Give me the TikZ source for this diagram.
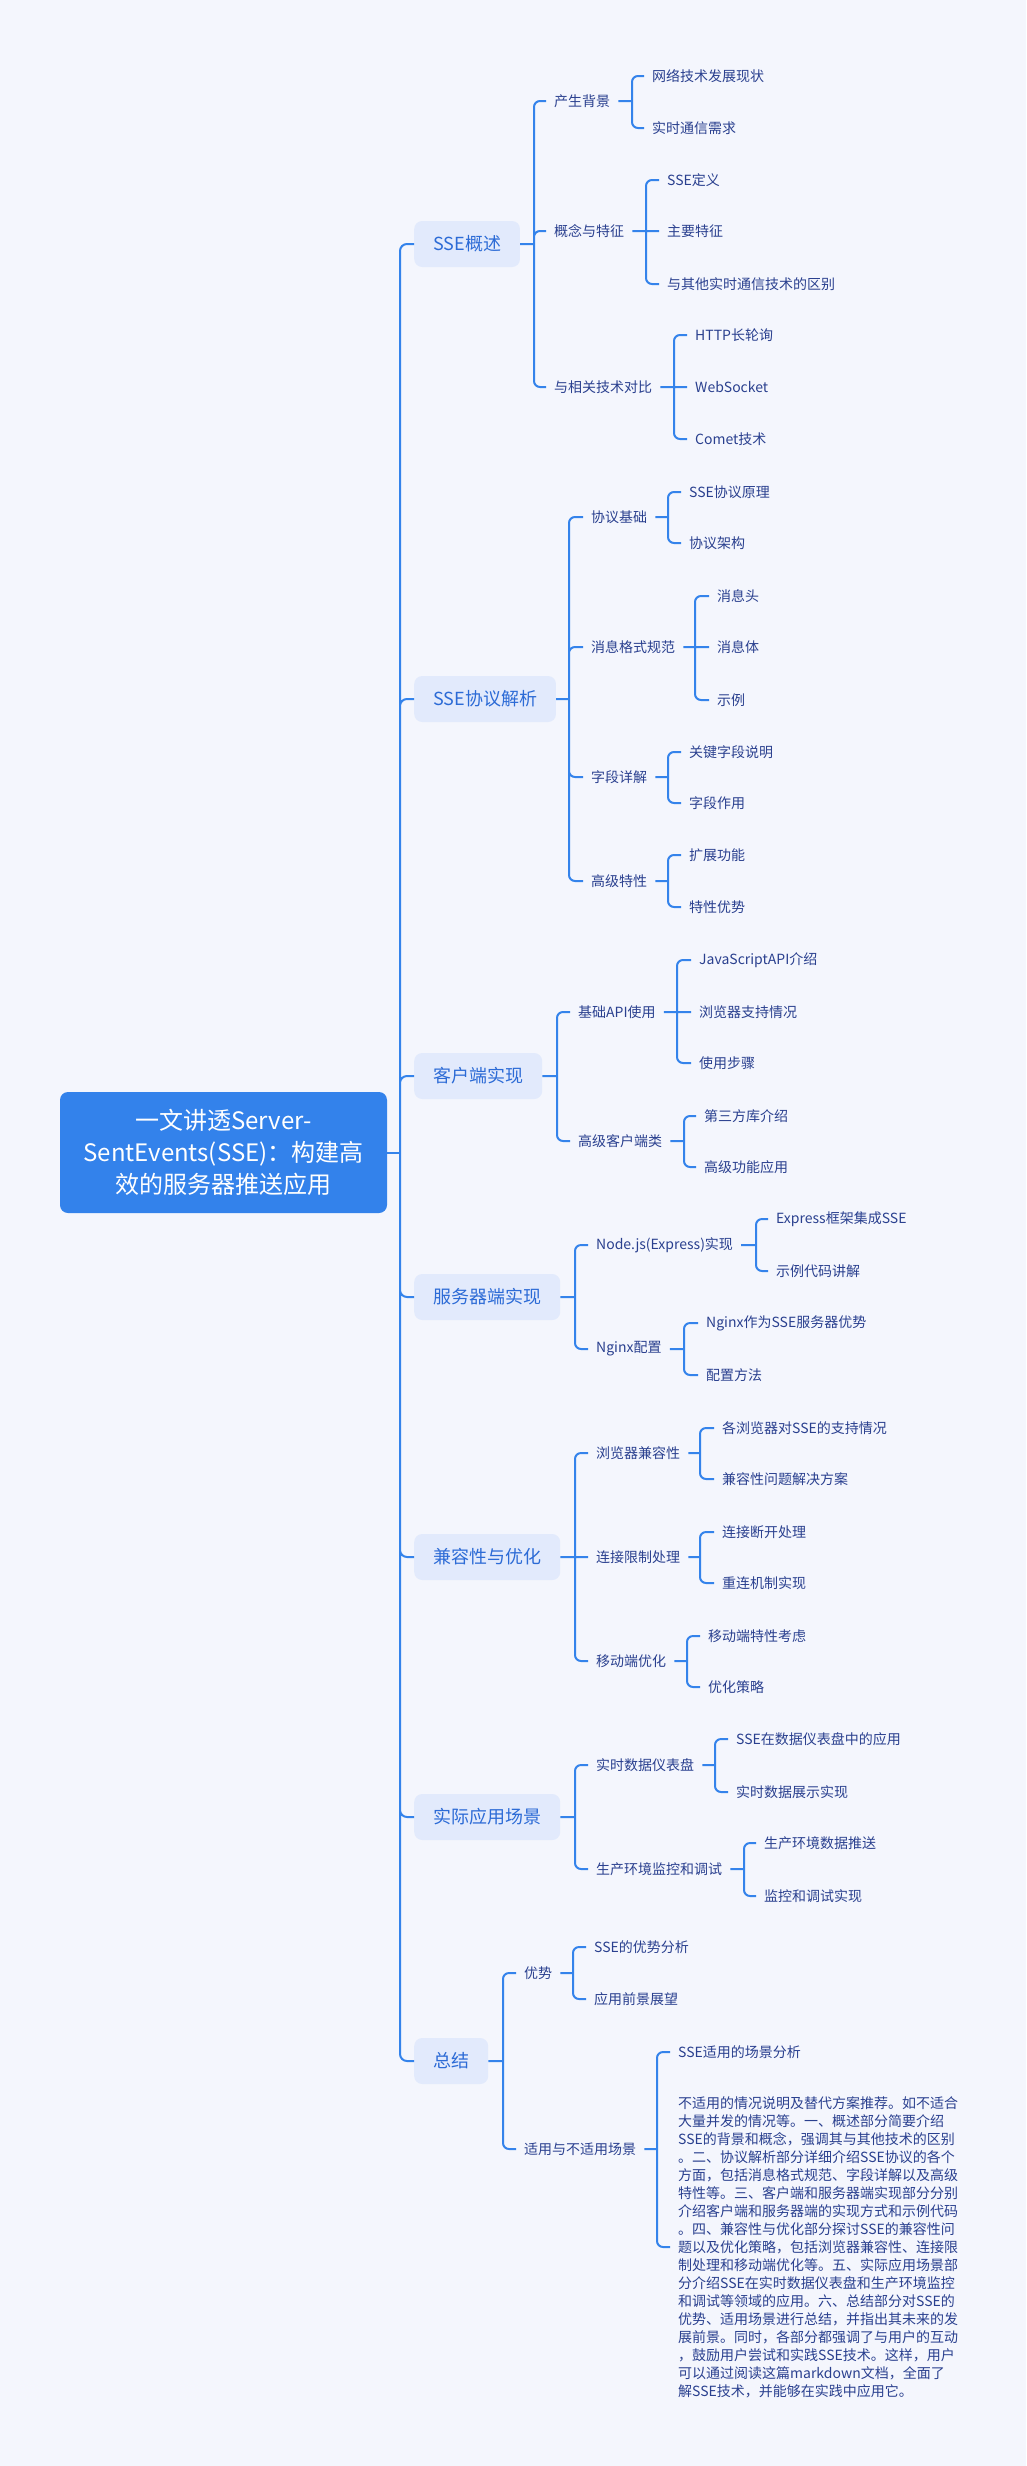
\documentclass[tikz,border=0pt]{standalone}
\usepackage{fontspec}
\usepackage{tikz}
\usetikzlibrary{calc}
\newfontfamily\cjk{Noto Sans CJK SC}

\definecolor{bgcol}{HTML}{F4F6FD}
\definecolor{linkblue}{HTML}{3483EB}
\definecolor{rootblue}{HTML}{3382EB}
\definecolor{topicfill}{HTML}{E2EAFC}
\definecolor{topictext}{HTML}{2C6BD6}
\definecolor{subtext}{HTML}{2A408F}

\tikzset{
  root/.style={fill=rootblue, text=white, rounded corners=8pt, align=center,
    minimum width=327pt, minimum height=121pt,
    font=\cjk\fontsize{24}{32}\selectfont},
  topic/.style={anchor=west, fill=topicfill, text=topictext, rounded corners=8pt,
    inner xsep=19pt, minimum height=46pt, font=\cjk\fontsize{18}{22}\selectfont},
  sub/.style={anchor=west, text=subtext, inner xsep=8pt, inner ysep=3pt,
    font=\cjk\fontsize{14}{18}\selectfont},
  link/.style={draw=linkblue, line width=2pt, rounded corners=6pt},
}

\begin{document}
\begin{tikzpicture}[x=1pt, y=-1pt]
  \fill[bgcol] (0,0) rectangle (1026,2466);
  \useasboundingbox (0,0) rectangle (1026,2466);

  \node[root] (root) at (223.5, 1152.5)
    {一文讲透Server-\\SentEvents(SSE)：构建高\\效的服务器推送应用};

  \node[topic] (ov) at (414, 244)  {SSE概述};
  \node[topic] (pr) at (414, 699)  {SSE协议解析};
  \node[topic] (cl) at (414, 1076) {客户端实现};
  \node[topic] (sv) at (414, 1297) {服务器端实现};
  \node[topic] (cp) at (414, 1557) {兼容性与优化};
  \node[topic] (ap) at (414, 1817) {实际应用场景};
  \node[topic] (sm) at (414, 2061) {总结};

  % SSE概述
  \node[sub] (ov1) at (546, 101) {产生背景};
  \node[sub] (ov2) at (546, 231) {概念与特征};
  \node[sub] (ov3) at (546, 387) {与相关技术对比};
  \node[sub] (ov1a) at (644, 76)  {网络技术发展现状};
  \node[sub] (ov1b) at (644, 128) {实时通信需求};
  \node[sub] (ov2a) at (659, 180) {SSE定义};
  \node[sub] (ov2b) at (659, 231) {主要特征};
  \node[sub] (ov2c) at (659, 284) {与其他实时通信技术的区别};
  \node[sub] (ov3a) at (687, 335) {HTTP长轮询};
  \node[sub] (ov3b) at (687, 387) {WebSocket};
  \node[sub] (ov3c) at (687, 439) {Comet技术};

  % SSE协议解析
  \node[sub] (pr1) at (583, 517) {协议基础};
  \node[sub] (pr2) at (583, 647) {消息格式规范};
  \node[sub] (pr3) at (583, 777) {字段详解};
  \node[sub] (pr4) at (583, 881) {高级特性};
  \node[sub] (pr1a) at (681, 492) {SSE协议原理};
  \node[sub] (pr1b) at (681, 543) {协议架构};
  \node[sub] (pr2a) at (709, 596) {消息头};
  \node[sub] (pr2b) at (709, 647) {消息体};
  \node[sub] (pr2c) at (709, 700) {示例};
  \node[sub] (pr3a) at (681, 752) {关键字段说明};
  \node[sub] (pr3b) at (681, 803) {字段作用};
  \node[sub] (pr4a) at (681, 855) {扩展功能};
  \node[sub] (pr4b) at (681, 907) {特性优势};

  % 客户端实现
  \node[sub] (cl1) at (570, 1012) {基础API使用};
  \node[sub] (cl2) at (570, 1141) {高级客户端类};
  \node[sub] (cl1a) at (691, 960)  {JavaScriptAPI介绍};
  \node[sub] (cl1b) at (691, 1012) {浏览器支持情况};
  \node[sub] (cl1c) at (691, 1063) {使用步骤};
  \node[sub] (cl2a) at (696, 1116) {第三方库介绍};
  \node[sub] (cl2b) at (696, 1167) {高级功能应用};

  % 服务器端实现
  \node[sub] (sv1) at (588, 1245) {Node.js(Express)实现};
  \node[sub] (sv2) at (588, 1349) {Nginx配置};
  \node[sub] (sv1a) at (768, 1219) {Express框架集成SSE};
  \node[sub] (sv1b) at (768, 1271) {示例代码讲解};
  \node[sub] (sv2a) at (698, 1323) {Nginx作为SSE服务器优势};
  \node[sub] (sv2b) at (698, 1375) {配置方法};

  % 兼容性与优化
  \node[sub] (cp1) at (588, 1453) {浏览器兼容性};
  \node[sub] (cp2) at (588, 1557) {连接限制处理};
  \node[sub] (cp3) at (588, 1661) {移动端优化};
  \node[sub] (cp1a) at (714, 1428) {各浏览器对SSE的支持情况};
  \node[sub] (cp1b) at (714, 1479) {兼容性问题解决方案};
  \node[sub] (cp2a) at (714, 1532) {连接断开处理};
  \node[sub] (cp2b) at (714, 1583) {重连机制实现};
  \node[sub] (cp3a) at (700, 1636) {移动端特性考虑};
  \node[sub] (cp3b) at (700, 1687) {优化策略};

  % 实际应用场景
  \node[sub] (ap1) at (588, 1765) {实时数据仪表盘};
  \node[sub] (ap2) at (588, 1869) {生产环境监控和调试};
  \node[sub] (ap1a) at (728, 1739) {SSE在数据仪表盘中的应用};
  \node[sub] (ap1b) at (728, 1792) {实时数据展示实现};
  \node[sub] (ap2a) at (756, 1843) {生产环境数据推送};
  \node[sub] (ap2b) at (756, 1896) {监控和调试实现};

  % 总结
  \node[sub] (sm1) at (516, 1973) {优势};
  \node[sub] (sm2) at (516, 2149) {适用与不适用场景};
  \node[sub] (sm1a) at (586, 1947) {SSE的优势分析};
  \node[sub] (sm1b) at (586, 1999) {应用前景展望};
  \node[sub] (sm2a) at (670, 2052) {SSE适用的场景分析};
  \node[sub, align=left] (sm2b) at (670, 2247)
    {不适用的情况说明及替代方案推荐。如不适合\\
     大量并发的情况等。一、概述部分简要介绍\\
     SSE的背景和概念，强调其与其他技术的区别\\
     。二、协议解析部分详细介绍SSE协议的各个\\
     方面，包括消息格式规范、字段详解以及高级\\
     特性等。三、客户端和服务器端实现部分分别\\
     介绍客户端和服务器端的实现方式和示例代码\\
     。四、兼容性与优化部分探讨SSE的兼容性问\\
     题以及优化策略，包括浏览器兼容性、连接限\\
     制处理和移动端优化等。五、实际应用场景部\\
     分介绍SSE在实时数据仪表盘和生产环境监控\\
     和调试等领域的应用。六、总结部分对SSE的\\
     优势、适用场景进行总结，并指出其未来的发\\
     展前景。同时，各部分都强调了与用户的互动\\
     ，鼓励用户尝试和实践SSE技术。这样，用户\\
     可以通过阅读这篇markdown文档，全面了\\
     解SSE技术，并能够在实践中应用它。};

  \coordinate (trunk) at (400, 1152.5);
  \coordinate (kov) at (534, 244);
  \coordinate (kpr) at (569, 699);
  \coordinate (kcl) at (557, 1076);
  \coordinate (ksv) at (575, 1297);
  \coordinate (kcp) at (575, 1557);
  \coordinate (kap) at (575, 1817);
  \coordinate (ksm) at (503, 2061);
  \coordinate (kov1) at (632, 101);
  \coordinate (kov2) at (646, 231);
  \coordinate (kov3) at (674, 387);
  \coordinate (kpr1) at (668, 517);
  \coordinate (kpr2) at (695, 647);
  \coordinate (kpr3) at (668, 777);
  \coordinate (kpr4) at (668, 881);
  \coordinate (kcl1) at (677, 1012);
  \coordinate (kcl2) at (684, 1141);
  \coordinate (ksv1) at (756, 1245);
  \coordinate (ksv2) at (684, 1349);
  \coordinate (kcp1) at (700, 1453);
  \coordinate (kcp2) at (700, 1557);
  \coordinate (kcp3) at (687, 1661);
  \coordinate (kap1) at (715, 1765);
  \coordinate (kap2) at (744, 1869);
  \coordinate (ksm1) at (573, 1973);
  \coordinate (ksm2) at (657, 2149);

  \draw[link] (root.east) -- (trunk);
  \draw[link, rounded corners=7pt]
    (trunk) |- (ov.west) (trunk) |- (pr.west) (trunk) |- (cl.west)
    (trunk) |- (sv.west) (trunk) |- (cp.west) (trunk) |- (ap.west)
    (trunk) |- (sm.west);

  \draw[link]
    (ov.east) -- (kov) (kov) |- (ov1.west) (kov) |- (ov2.west) (kov) |- (ov3.west)
    (pr.east) -- (kpr) (kpr) |- (pr1.west) (kpr) |- (pr2.west)
    (kpr) |- (pr3.west) (kpr) |- (pr4.west)
    (cl.east) -- (kcl) (kcl) |- (cl1.west) (kcl) |- (cl2.west)
    (sv.east) -- (ksv) (ksv) |- (sv1.west) (ksv) |- (sv2.west)
    (cp.east) -- (kcp) (kcp) |- (cp1.west) (kcp) |- (cp3.west)
    (kcp) -- (cp2.west)
    (ap.east) -- (kap) (kap) |- (ap1.west) (kap) |- (ap2.west)
    (sm.east) -- (ksm) (ksm) |- (sm1.west) (ksm) |- (sm2.west);

  \draw[link]
    (ov1.east) -- (kov1) (kov1) |- (ov1a.west) (kov1) |- (ov1b.west)
    (ov2.east) -- (kov2) (kov2) |- (ov2a.west) (kov2) |- (ov2c.west)
    (kov2) -- (ov2b.west)
    (ov3.east) -- (kov3) (kov3) |- (ov3a.west) (kov3) |- (ov3c.west)
    (kov3) -- (ov3b.west);

  \draw[link]
    (pr1.east) -- (kpr1) (kpr1) |- (pr1a.west) (kpr1) |- (pr1b.west)
    (pr2.east) -- (kpr2) (kpr2) |- (pr2a.west) (kpr2) |- (pr2c.west)
    (kpr2) -- (pr2b.west)
    (pr3.east) -- (kpr3) (kpr3) |- (pr3a.west) (kpr3) |- (pr3b.west)
    (pr4.east) -- (kpr4) (kpr4) |- (pr4a.west) (kpr4) |- (pr4b.west);

  \draw[link]
    (cl1.east) -- (kcl1) (kcl1) |- (cl1a.west) (kcl1) |- (cl1c.west)
    (kcl1) -- (cl1b.west)
    (cl2.east) -- (kcl2) (kcl2) |- (cl2a.west) (kcl2) |- (cl2b.west)
    (sv1.east) -- (ksv1) (ksv1) |- (sv1a.west) (ksv1) |- (sv1b.west)
    (sv2.east) -- (ksv2) (ksv2) |- (sv2a.west) (ksv2) |- (sv2b.west);

  \draw[link]
    (cp1.east) -- (kcp1) (kcp1) |- (cp1a.west) (kcp1) |- (cp1b.west)
    (cp2.east) -- (kcp2) (kcp2) |- (cp2a.west) (kcp2) |- (cp2b.west)
    (cp3.east) -- (kcp3) (kcp3) |- (cp3a.west) (kcp3) |- (cp3b.west)
    (ap1.east) -- (kap1) (kap1) |- (ap1a.west) (kap1) |- (ap1b.west)
    (ap2.east) -- (kap2) (kap2) |- (ap2a.west) (kap2) |- (ap2b.west)
    (sm1.east) -- (ksm1) (ksm1) |- (sm1a.west) (ksm1) |- (sm1b.west)
    (sm2.east) -- (ksm2) (ksm2) |- (sm2a.west) (ksm2) |- (sm2b.west);
\end{tikzpicture}
\end{document}
